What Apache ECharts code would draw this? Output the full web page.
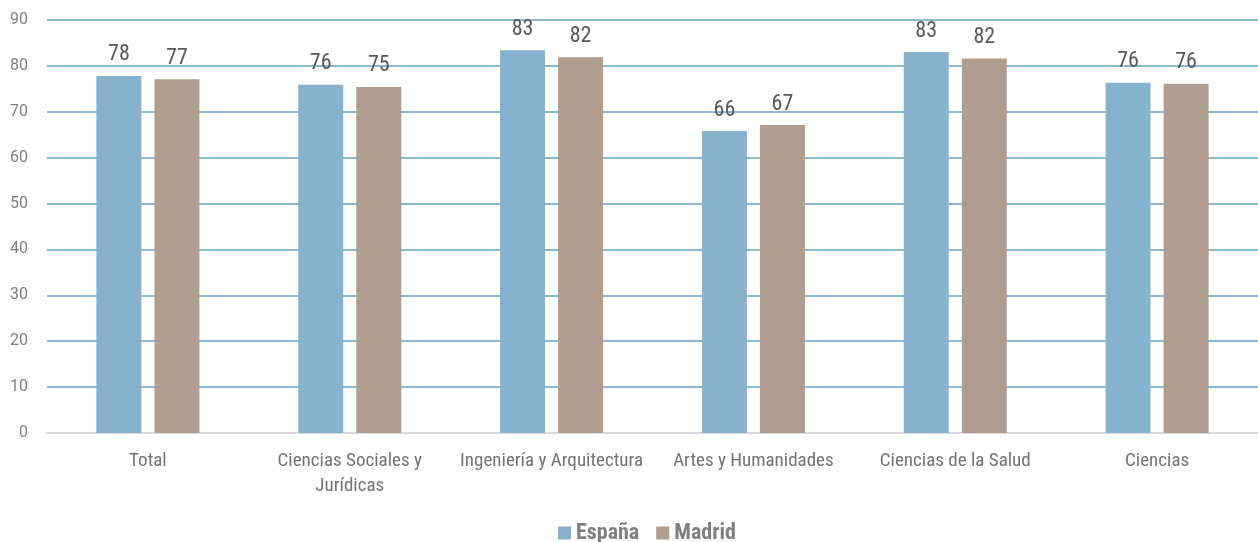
<!DOCTYPE html>
<html><head><meta charset="utf-8">
<script src="https://cdn.jsdelivr.net/npm/echarts@6/dist/echarts.min.js"></script>
<style>html,body{margin:0;padding:0;background:#fff}#c{width:1258px;height:542px}</style>
</head><body><div id="c"></div>
<script>
const categories = ["Total", "Ciencias Sociales y\nJurídicas", "Ingeniería y Arquitectura", "Artes y Humanidades", "Ciencias de la Salud", "Ciencias"];
const espana = [77.8, 75.9, 83.4, 65.8, 83.0, 76.3];
const madrid = [77.1, 75.4, 81.9, 67.1, 81.6, 76.1];
const seriesNames = ["España", "Madrid"];
const yTicks = {min: 0, max: 90, interval: 10};

const font = '"Liberation Sans Narrow", "Roboto Condensed", "Liberation Sans", sans-serif';
const chart = echarts.init(document.getElementById('c'), null, {renderer: 'canvas'});
const lbl = {show: true, position: 'top', distance: 10, color: '#595959', fontFamily: font, fontSize: 22,
  formatter: p => Math.round(p.value)};
chart.setOption({
  animation: false,
  grid: {left: 47, right: 0, top: 20, bottom: 109, containLabel: false},
  legend: {bottom: -7, left: 553, itemWidth: 13, itemHeight: 13, itemGap: 17, icon: 'rect',
    textStyle: {color: '#808080', fontFamily: font, fontSize: 22, fontWeight: 'bold'}, data: seriesNames},
  xAxis: {type: 'category', data: categories,
    axisLine: {lineStyle: {color: '#d9d9e0', width: 2}}, axisTick: {show: false},
    axisLabel: {color: '#737373', fontFamily: font, fontSize: 19, margin: 16, lineHeight: 25, interval: 0}},
  yAxis: {type: 'value', min: yTicks.min, max: yTicks.max, interval: yTicks.interval,
    axisLine: {show: false}, axisTick: {show: false},
    axisLabel: {color: '#7f7f7f', fontFamily: 'Roboto, sans-serif', fontSize: 16, margin: 19},
    splitLine: {lineStyle: {color: '#8db8d4', width: 2}}},
  series: [
    {name: seriesNames[0], type: 'bar', data: espana, barWidth: 45, barGap: '29%',
      itemStyle: {color: '#87b2cd'}, label: lbl},
    {name: seriesNames[1], type: 'bar', data: madrid, barWidth: 45,
      itemStyle: {color: '#b09d8d'}, label: lbl}
  ]
});
</script></body></html>
